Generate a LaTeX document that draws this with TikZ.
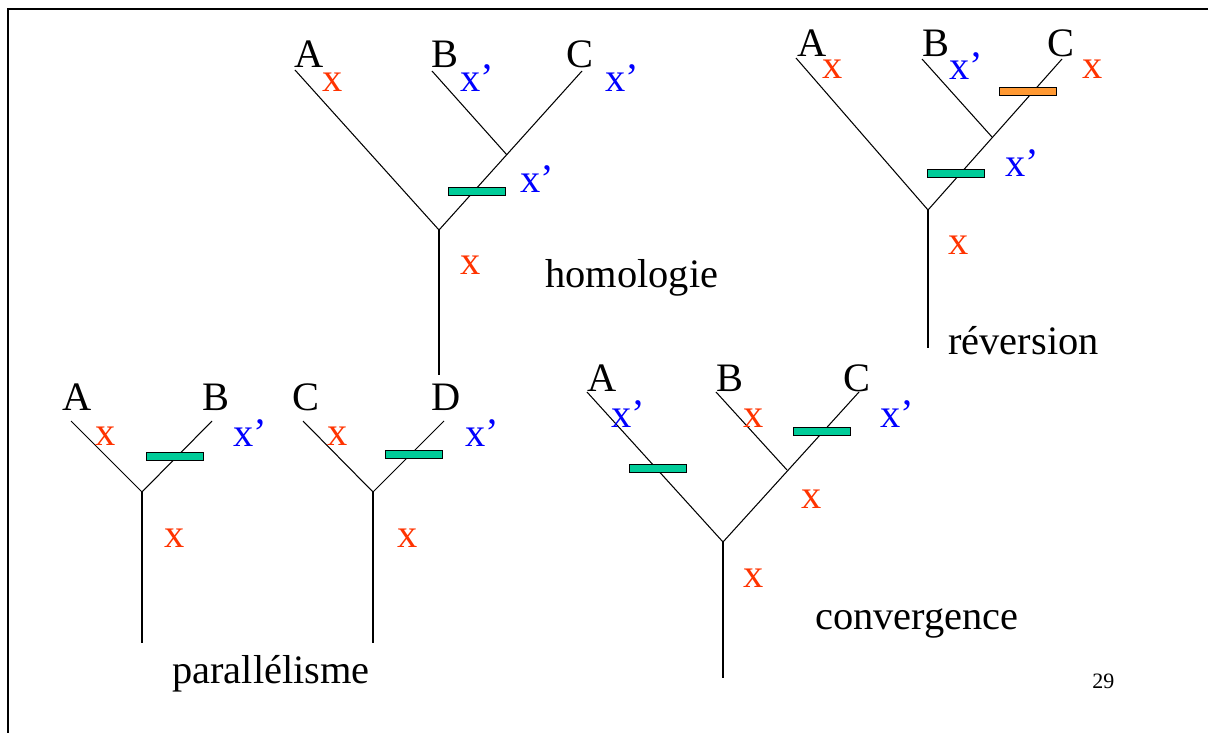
\documentclass[tikz,border=0pt]{standalone}
\usepackage{fontspec}
\setmainfont{Liberation Serif}
\usepackage{xcolor}
\usepackage{tikz}
\usetikzlibrary{positioning}
\definecolor{xred}{HTML}{FF3300}
\definecolor{xblue}{HTML}{0000FF}
\definecolor{bargreen}{HTML}{00CC99}
\definecolor{barorange}{HTML}{FF9933}

\begin{document}
\begin{tikzpicture}[
    x=0.02cm, y=-0.02cm,
    taxon/.style={anchor=base west, inner sep=0pt, font=\fontsize{23}{27}\selectfont},
    xold/.style={taxon, text=xred},
    xnew/.style={taxon, text=xblue},
    branch/.style={line width=0.6pt},
    bar/.style={draw, line width=0.5pt, fill=bargreen, minimum width=1.14cm,
                minimum height=0.16cm, inner sep=0pt},
    revbar/.style={bar, fill=barorange},
    frame/.style={line width=1.6pt}
]
\useasboundingbox (0,0) rectangle (1208,733);
\draw[frame] (8,733) -- (8,9) -- (1208,9);

% homologie
\coordinate (hA) at (295,70);
\coordinate (hB) at (432,71);
\coordinate (hC) at (582,71);
\coordinate (hbc) at (507,155);
\coordinate (hroot) at (439,230);
\coordinate (hbase) at (439,375);
\draw[branch] (hA) -- (hroot) -- (hC);
\draw[branch] (hB) -- (hbc);
\draw[branch] (hroot) -- (hbase);
\node[bar] (hbar) at (477,191) {};
\node[taxon] (hlA) at (294,68) {A};
\node[taxon] (hlB) at (431,68) {B};
\node[taxon] (hlC) at (566,68) {C};
\node[xold] (hxA) at (322,92) {x};
\node[xnew] (hxB) at (460,92) {x’};
\node[xnew] (hxC) at (605,92) {x’};
\node[xnew] (hxbc) at (520,193) {x’};
\node[xold] (hxroot) at (460,275) {x};
\node[taxon] (htitle) at (545,288) {homologie};

% reversion
\coordinate (rA) at (796,58);
\coordinate (rB) at (922,59);
\coordinate (rC) at (1062,59);
\coordinate (rbc) at (992,137);
\coordinate (rroot) at (928,210);
\coordinate (rbase) at (928,348);
\draw[branch] (rA) -- (rroot) -- (rC);
\draw[branch] (rB) -- (rbc);
\draw[branch] (rroot) -- (rbase);
\node[revbar] (rbar2) at (1028,91) {};
\node[bar] (rbar1) at (956,173) {};
\node[taxon] (rlA) at (797,57) {A};
\node[taxon] (rlB) at (922,57) {B};
\node[taxon] (rlC) at (1047,57) {C};
\node[xold] (rxA) at (822,79) {x};
\node[xnew] (rxB) at (949,80) {x’};
\node[xold] (rxC) at (1082,79) {x};
\node[xnew] (rxbc) at (1005,177) {x’};
\node[xold] (rxroot) at (948,255) {x};
\node[taxon] (rtitle) at (948,355) {réversion};

% parallelisme
\coordinate (pA) at (71,421);
\coordinate (pB) at (212,421);
\coordinate (proot1) at (142,492);
\coordinate (pbase1) at (142,643);
\coordinate (pC) at (303,421);
\coordinate (pD) at (444,421);
\coordinate (proot2) at (373,492);
\coordinate (pbase2) at (373,643);
\draw[branch] (pA) -- (proot1) -- (pB);
\draw[branch] (proot1) -- (pbase1);
\draw[branch] (pC) -- (proot2) -- (pD);
\draw[branch] (proot2) -- (pbase2);
\node[bar] (pbar1) at (175,456) {};
\node[bar] (pbar2) at (414,454) {};
\node[taxon] (plA) at (62,411) {A};
\node[taxon] (plB) at (202,411) {B};
\node[taxon] (plC) at (292,411) {C};
\node[taxon] (plD) at (431,411) {D};
\node[xold] (pxA) at (95,445) {x};
\node[xnew] (pxB) at (233,446) {x’};
\node[xold] (pxC) at (327,445) {x};
\node[xnew] (pxD) at (465,446) {x’};
\node[xold] (pxroot1) at (164,547) {x};
\node[xold] (pxroot2) at (397,547) {x};
\node[taxon] (ptitle) at (172,683) {parallélisme};

% convergence
\coordinate (cA) at (587,392);
\coordinate (cB) at (716,392);
\coordinate (cC) at (859,392);
\coordinate (cbc) at (787,470);
\coordinate (croot) at (723,542);
\coordinate (cbase) at (723,678);
\draw[branch] (cA) -- (croot) -- (cC);
\draw[branch] (cB) -- (cbc);
\draw[branch] (croot) -- (cbase);
\node[bar] (cbar1) at (658,468) {};
\node[bar] (cbar2) at (822,431) {};
\node[taxon] (clA) at (587,392) {A};
\node[taxon] (clB) at (716,392) {B};
\node[taxon] (clC) at (843,392) {C};
\node[xnew] (cxA) at (611,428) {x’};
\node[xold] (cxB) at (743,428) {x};
\node[xnew] (cxC) at (880,428) {x’};
\node[xold] (cxbc) at (801,508) {x};
\node[xold] (cxroot) at (743,587) {x};
\node[taxon] (ctitle) at (815,629) {convergence};

\node[taxon, font=\fontsize{12.5}{15}\selectfont] (page) at (1092,688) {29};
\end{tikzpicture}
\end{document}
